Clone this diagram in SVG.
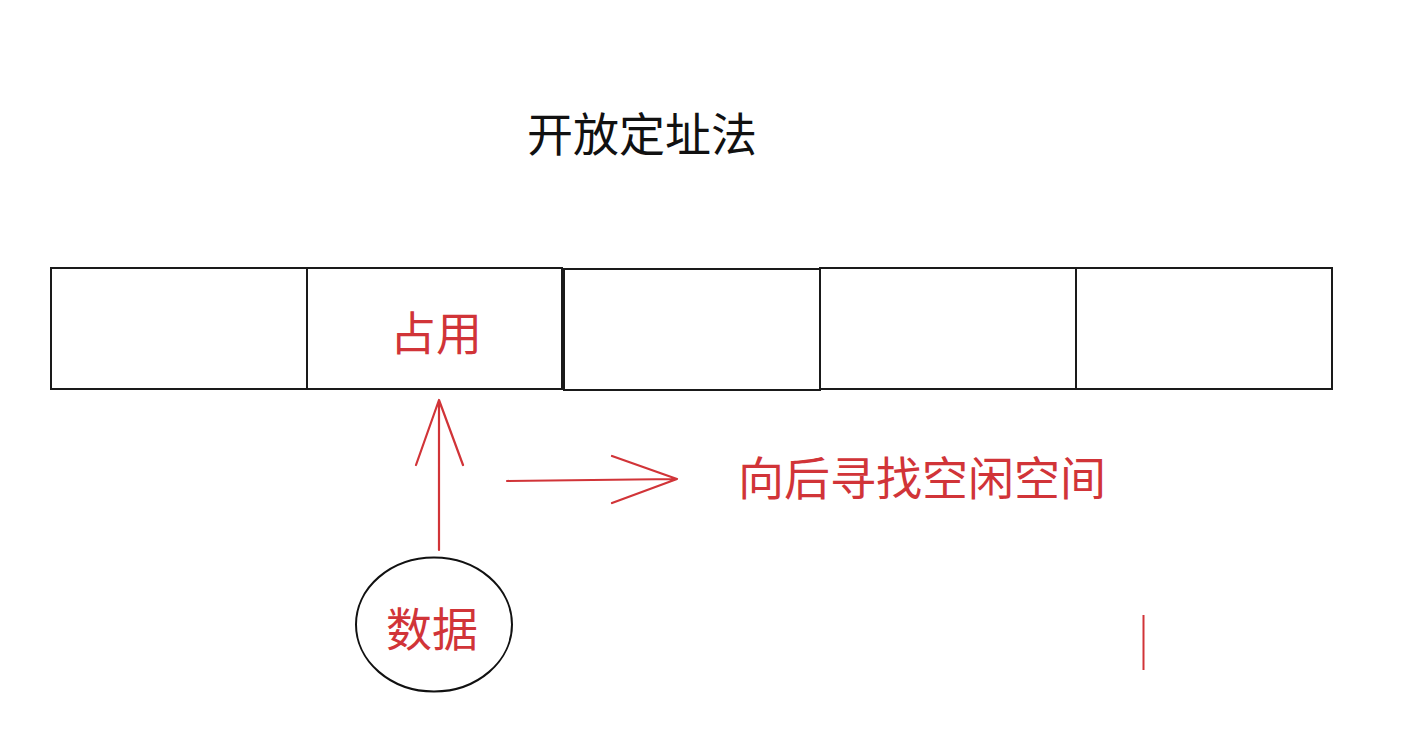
<svg xmlns="http://www.w3.org/2000/svg" width="1407" height="729" viewBox="0 0 1407 729">
<style>
.cell{fill:#fff;stroke:#1a1a1a;stroke-width:2}
.red{fill:#d13438;font-family:"Noto Sans CJK SC","Noto Sans",sans-serif;font-size:46px}
.blk{fill:#111;font-family:"Noto Sans CJK SC","Noto Sans",sans-serif;font-size:46px}
.ln{stroke:#d13438;stroke-width:2.2;fill:none;stroke-linecap:round;stroke-linejoin:round}
</style>
<rect width="1407" height="729" fill="#fff"/>
<text class="blk" x="527" y="151">开放定址法</text>
<g id="cell1"><rect class="cell" x="51" y="268" width="256" height="121"/></g>
<g id="cell2"><rect class="cell" x="307" y="268" width="255" height="121"/><text class="red" x="390" y="350">占用</text></g>
<g id="cell3"><rect class="cell" x="564" y="269" width="256" height="121"/></g>
<g id="cell4"><rect class="cell" x="820" y="268" width="256" height="121"/></g>
<g id="cell5"><rect class="cell" x="1076" y="268" width="256" height="121"/></g>
<g id="data"><ellipse cx="434" cy="624.5" rx="78" ry="67" fill="#fff" stroke="#111" stroke-width="2"/><text class="red" x="386" y="646">数据</text></g>
<g id="connectors">
<path class="ln" d="M439 550 L439 400 M416 465 L439 400 L463 465"/>
<path class="ln" d="M507 481 L677 479 M612 456 L677 479 L612 503"/>
</g>
<text class="red" x="738" y="495">向后寻找空闲空间</text>
<line x1="1143.5" y1="615" x2="1143.5" y2="670" stroke="#d13438" stroke-width="2"/>
</svg>
